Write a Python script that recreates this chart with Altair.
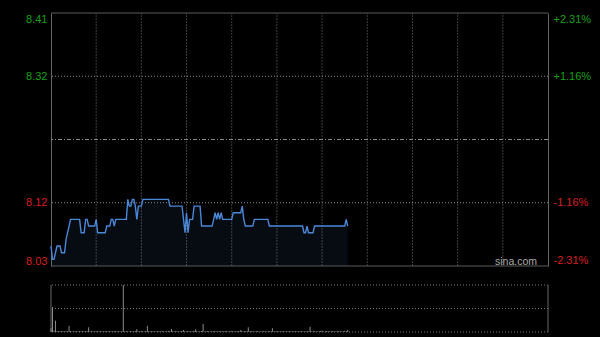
import json
import altair as alt
import pandas as pd

# ---------------- data ----------------
prev_close = 8.22
price_lo = 8.03
price_hi = 8.41
session_minutes = 330          # 09:30-12:00 + 13:00-16:00

prices = [
    8.06, 8.04, 8.04, 8.05, 8.06, 8.06, 8.06, 8.05, 8.05, 8.05,   # 0-9
    8.07, 8.08, 8.09, 8.10, 8.10, 8.10, 8.10, 8.10, 8.10, 8.10,   # 10-19
    8.08, 8.08, 8.08, 8.10, 8.10, 8.09, 8.09, 8.09, 8.09, 8.09,   # 20-29
    8.10, 8.08, 8.08, 8.08, 8.08, 8.08, 8.08, 8.09, 8.09, 8.09,   # 30-39
    8.10, 8.10, 8.09, 8.10, 8.10, 8.10, 8.10, 8.10, 8.10, 8.10,   # 40-49
    8.10, 8.13, 8.12, 8.12, 8.13, 8.13, 8.12, 8.10, 8.12, 8.12,   # 50-59
    8.12, 8.13, 8.13, 8.13, 8.13, 8.13, 8.13, 8.13, 8.13, 8.13,   # 60-69
    8.13, 8.13, 8.13, 8.13, 8.13, 8.13, 8.13, 8.13, 8.13, 8.12,   # 70-79
    8.12, 8.12, 8.12, 8.12, 8.12, 8.12, 8.12, 8.12, 8.10, 8.08,   # 80-89
    8.11, 8.08, 8.10, 8.10, 8.10, 8.12, 8.12, 8.12, 8.12, 8.12,   # 90-99
    8.09, 8.09, 8.09, 8.09, 8.09, 8.09, 8.09, 8.09, 8.10, 8.11,   # 100-109
    8.10, 8.11, 8.10, 8.11, 8.10, 8.10, 8.10, 8.10, 8.10, 8.10,   # 110-119
    8.10, 8.11, 8.11, 8.11, 8.11, 8.11, 8.11, 8.12, 8.10, 8.09,   # 120-129
    8.09, 8.09, 8.09, 8.09, 8.09, 8.10, 8.10, 8.10, 8.10, 8.10,   # 130-139
    8.10, 8.10, 8.10, 8.10, 8.10, 8.09, 8.09, 8.09, 8.09, 8.09,   # 140-149
    8.09, 8.09, 8.09, 8.09, 8.09, 8.09, 8.09, 8.09, 8.09, 8.09,   # 150-159
    8.09, 8.09, 8.09, 8.09, 8.09, 8.09, 8.09, 8.09, 8.08, 8.08,   # 160-169
    8.09, 8.08, 8.08, 8.08, 8.08, 8.09, 8.09, 8.09, 8.09, 8.09,   # 170-179
    8.09, 8.09, 8.09, 8.09, 8.09, 8.09, 8.09, 8.09, 8.09, 8.09,   # 180-189
    8.09, 8.09, 8.09, 8.09, 8.09, 8.09, 8.10, 8.09,               # 190-197
]

volumes = [
    8, 53, 3, 24, 2, 1, 2, 1, 2, 1,
    2, 1, 13, 2, 1, 1, 2, 1, 1, 2,
    1, 2, 1, 1, 2, 10, 1, 2, 1, 1,
    2, 1, 1, 2, 1, 1, 2, 1, 1, 2,
    1, 1, 2, 1, 1, 2, 1, 1, 100, 1,
    2, 1, 1, 2, 1, 1, 2, 6, 1, 1,
    2, 1, 1, 2, 13, 1, 1, 2, 1, 1,
    1, 2, 1, 1, 2, 1, 1, 1, 2, 1,
    6, 1, 1, 2, 1, 1, 1, 2, 4, 1,
    1, 2, 1, 1, 1, 2, 6, 1, 1, 1,
    2, 17, 1, 1, 2, 1, 1, 1, 2, 1,
    1, 1, 2, 1, 1, 1, 2, 1, 1, 1,
    2, 1, 1, 1, 2, 1, 4, 1, 1, 2,
    1, 10, 1, 2, 1, 1, 1, 2, 1, 1,
    1, 2, 1, 1, 1, 2, 1, 8, 1, 1,
    2, 1, 1, 1, 2, 1, 1, 1, 2, 1,
    1, 1, 2, 1, 1, 1, 2, 1, 1, 1,
    2, 1, 11, 1, 1, 2, 1, 1, 1, 2,
    3, 1, 1, 2, 1, 1, 1, 2, 1, 1,
    1, 2, 1, 1, 1, 2, 1, 4,
]

minutes = list(range(len(prices)))

left_tick_values = [8.41, 8.315, 8.125, 8.03]
left_tick_labels = ["8.41", "8.32", "8.12", "8.03"]
right_tick_values = [2.31, 1.155, -1.155, -2.31]
right_tick_labels = ["+2.31%", "+1.16%", "-1.16%", "-2.31%"]
inner_price_grid = [8.315, 8.125]
time_grid = [30, 60, 90, 120, 150, 180, 210, 240, 270, 300]
vol_domain_max = 100
vol_grid = [0, 50, 100]
watermark = "sina.com"

# ---------------- layout / style ----------------
W = 497
H_PRICE = 253
GAP = 19
H_VOL = 47
H = H_PRICE + GAP + H_VOL

FONT = "Liberation Sans"
GREEN = "#16a016"
RED = "#d81e1e"
LINE = "#4a87d8"
BORDER = "#666666"

pct_hi = (price_hi - prev_close) / prev_close * 100
pct_lo = (price_lo - prev_close) / prev_close * 100

price_df = pd.DataFrame({
    "minute": minutes,
    "price": prices,
    "vol": volumes,
    "base": [price_lo] * len(prices),
    "zero": [0] * len(prices),
})
price_df["pct"] = (price_df["price"] - prev_close) / prev_close * 100

grid_df = pd.DataFrame({"minute": time_grid,
                        "lo": [price_lo] * len(time_grid),
                        "hi": [price_hi] * len(time_grid)})
prev_df = pd.DataFrame({"price": [prev_close]})
hgrid_df = pd.DataFrame({"price": inner_price_grid})
edge_df = pd.DataFrame({"price": [price_lo, price_hi]})
volgrid_df = pd.DataFrame({"v": vol_grid})
volside_df = pd.DataFrame({"minute": [0, session_minutes], "lo": [0, 0],
                           "hi": [vol_domain_max, vol_domain_max]})
wm_df = pd.DataFrame({"t": [watermark]})

x_scale = alt.Scale(domain=[0, session_minutes], nice=False, zero=False)
price_scale = alt.Scale(domain=[price_lo, price_hi], range=[H_PRICE, 0],
                        nice=False, zero=False)
pct_scale = alt.Scale(domain=[pct_lo, pct_hi], range=[H_PRICE, 0],
                      nice=False, zero=False)
vol_scale = alt.Scale(domain=[0, vol_domain_max], range=[H, H - H_VOL],
                      nice=False)


def xenc(field="minute:Q"):
    return alt.X(field, scale=x_scale, axis=None)


left_axis = alt.Axis(
    orient="left",
    values=left_tick_values,
    labelExpr=f"{json.dumps(left_tick_labels)}[indexof({json.dumps(left_tick_values)}, datum.value)]",
    labelColor={"condition": {"test": f"datum.value > {prev_close}", "value": GREEN}, "value": RED},
    labelFont=FONT, labelFontSize=11, labelPadding=4, labelFlush=True,
    ticks=False, domain=True, domainColor=BORDER, domainWidth=1,
    grid=False, title=None,
)

right_axis = alt.Axis(
    orient="right",
    values=right_tick_values,
    labelExpr=f"{json.dumps(right_tick_labels)}[indexof({json.dumps(right_tick_values)}, datum.value)]",
    labelColor={"condition": {"test": "datum.value > 0", "value": GREEN}, "value": RED},
    labelFont=FONT, labelFontSize=11, labelPadding=5, labelFlush=True,
    ticks=False, domain=True, domainColor=BORDER, domainWidth=1,
    grid=False, title=None,
)

# ---- price panel ----
vgrid = alt.Chart(grid_df).mark_rule(color="#3e3e3e", strokeDash=[2, 1], strokeWidth=1).encode(
    x=xenc(),
    y=alt.Y("lo:Q", scale=price_scale, axis=None),
    y2="hi:Q",
)
hgrid = alt.Chart(hgrid_df).mark_rule(color="#8a8a8a", strokeDash=[1, 2], strokeWidth=1).encode(
    y=alt.Y("price:Q", scale=price_scale, axis=None),
)
prev_rule = alt.Chart(prev_df).mark_rule(color="#8a8a8a", strokeDash=[4, 2, 1, 2], strokeWidth=1).encode(
    y=alt.Y("price:Q", scale=price_scale, axis=None),
)
edges = alt.Chart(edge_df).mark_rule(color="#5a5a5a", strokeWidth=1).encode(
    y=alt.Y("price:Q", scale=price_scale, axis=None),
)
area = alt.Chart(price_df).mark_area(color=LINE, opacity=0.09).encode(
    x=xenc(),
    y=alt.Y("price:Q", scale=price_scale, axis=None),
    y2="base:Q",
)
line = alt.Chart(price_df).mark_line(color=LINE, strokeWidth=1.4).encode(
    x=xenc(),
    y=alt.Y("price:Q", scale=price_scale, axis=None),
)
price_layer = alt.layer(vgrid, hgrid, prev_rule, edges, area, line)

left_layer = alt.Chart(price_df).mark_line(opacity=0).encode(
    x=xenc(),
    y=alt.Y("price:Q", scale=price_scale, axis=left_axis),
)

pct_layer = alt.Chart(price_df).mark_line(opacity=0).encode(
    x=xenc(),
    y=alt.Y("pct:Q", scale=pct_scale, axis=right_axis),
)

# ---- volume panel ----
vol_bars = alt.Chart(price_df).mark_rule(color="#8c8c8c", strokeWidth=1).encode(
    x=xenc(),
    y=alt.Y("vol:Q", scale=vol_scale, axis=None),
    y2="zero:Q",
)
vol_grid_rules = alt.Chart(volgrid_df).mark_rule(color="#7a7a7a", strokeDash=[1, 2], strokeWidth=1).encode(
    y=alt.Y("v:Q", scale=vol_scale, axis=None),
)
vol_sides = alt.Chart(volside_df).mark_rule(color=BORDER, strokeWidth=1).encode(
    x=xenc(),
    y=alt.Y("lo:Q", scale=vol_scale, axis=None),
    y2="hi:Q",
)
vol_layer = alt.layer(vol_grid_rules, vol_sides, vol_bars)

wm = alt.Chart(wm_df).mark_text(
    font=FONT, fontSize=10.5, color="#aaaaaa", align="right", baseline="alphabetic"
).encode(text="t:N", x=alt.value(W - 11), y=alt.value(H_PRICE - 1))

chart = alt.layer(left_layer, pct_layer, price_layer, vol_layer, wm).resolve_scale(
    y="independent"
).properties(
    width=W,
    height=H,
    autosize=alt.AutoSizeParams(type="none"),
    padding={"left": 51, "top": 13, "right": 52, "bottom": 5},
    background="#000000",
).configure_view(stroke=None)

chart.save("out.html", embed_options={"renderer": "svg", "actions": False})
